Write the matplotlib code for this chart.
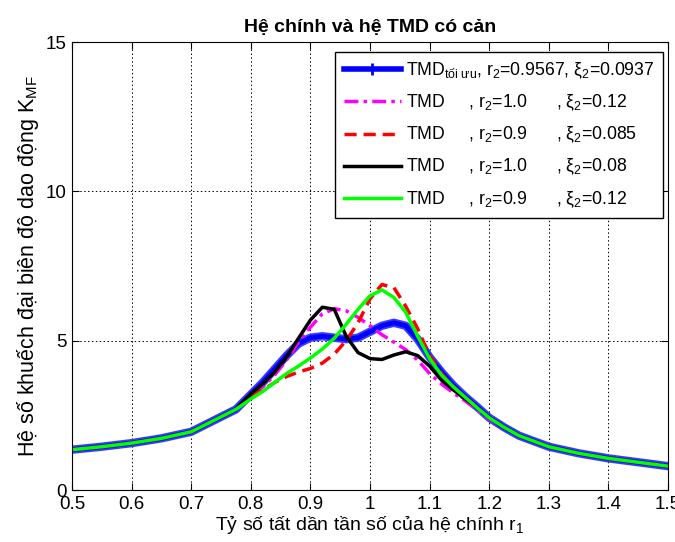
import matplotlib
matplotlib.use('Agg')
import matplotlib.pyplot as plt
import matplotlib.patheffects as pe

plt.rcParams['font.family'] = ['Liberation Sans', 'DejaVu Sans']
plt.rcParams['mathtext.fontset'] = 'custom'
plt.rcParams['mathtext.rm'] = 'Liberation Sans'
plt.rcParams['mathtext.it'] = 'Liberation Sans'
plt.rcParams['mathtext.bf'] = 'Liberation Sans:bold'

# tan so r1
r1 = [0.5, 0.55, 0.6, 0.65, 0.7, 0.75, 0.775,
      0.80, 0.82, 0.84, 0.86, 0.88, 0.90, 0.92, 0.94, 0.96, 0.98, 1.00,
      1.02, 1.04, 1.06, 1.08, 1.10, 1.12, 1.14, 1.16, 1.18, 1.20,
      1.225, 1.25, 1.3, 1.35, 1.4, 1.45, 1.5]

left = [1.35, 1.45, 1.57, 1.73, 1.95, 2.45, 2.7]
tail = [2.1, 1.82, 1.45, 1.23, 1.06, 0.93, 0.8]

k_opt = left + [3.2, 3.6, 4.05, 4.5, 4.9, 5.1, 5.15, 5.1, 5.05, 5.1, 5.3,
                5.5, 5.6, 5.5, 5.05, 4.45, 3.95, 3.5, 3.12, 2.78, 2.42] + tail
k_m = left + [3.15, 3.45, 3.85, 4.35, 4.95, 5.45, 5.9, 6.07, 6.0, 5.78, 5.5,
              5.2, 4.95, 4.7, 4.35, 3.9, 3.55, 3.25, 2.98, 2.68, 2.38] + tail
k_r = left + [3.15, 3.35, 3.6, 3.8, 3.95, 4.07, 4.25, 4.55, 5.0, 5.6, 6.4,
              6.88, 6.78, 6.15, 5.4, 4.5, 3.9, 3.45, 3.1, 2.75, 2.42] + tail
k_k = left + [3.22, 3.55, 3.95, 4.45, 5.08, 5.69, 6.12, 6.05, 5.15, 4.6, 4.4,
              4.37, 4.52, 4.63, 4.5, 4.15, 3.68, 3.35, 3.05, 2.75, 2.42] + tail
k_g = left + [3.05, 3.3, 3.6, 3.9, 4.15, 4.42, 4.72, 5.08, 5.55, 6.05, 6.5,
              6.7, 6.45, 5.95, 5.15, 4.4, 3.85, 3.45, 3.1, 2.75, 2.42] + tail

lab_opt = r'TMD$_{\mathregular{tối\ ưu}}$, r$_2$=0.9567, ξ$_2$=0.0937'
lab_m = r'TMD     , r$_2$=1.0      , ξ$_2$=0.12'
lab_r = r'TMD     , r$_2$=0.9      , ξ$_2$=0.085'
lab_k = r'TMD     , r$_2$=1.0      , ξ$_2$=0.08'
lab_g = r'TMD     , r$_2$=0.9      , ξ$_2$=0.12'

fig = plt.figure(figsize=(6.75, 5.42), dpi=100)
ax = fig.add_axes([0.1067, 0.0959, 0.8829, 0.8266])

ax.plot(r1, k_opt, color='#0000ff', lw=3.4, label=lab_opt,
        path_effects=[pe.Stroke(linewidth=6, foreground='#3a3aff'), pe.Normal()])
ax.plot(r1, k_m, color='#ff00ff', lw=2.5, linestyle=(0, (4, 1.5, 1, 1.5)), label=lab_m)
ax.plot(r1, k_r, color='#ff0000', lw=2.5, linestyle=(0, (3.5, 2)), label=lab_r)
ax.plot(r1, k_k, color='black', lw=2.5, label=lab_k)
ax.plot(r1, k_g, color='#00ff00', lw=2.5, label=lab_g)

# legend handle with the + marker of the optimal curve
handles, labels = ax.get_legend_handles_labels()
handles[0] = plt.Line2D([], [], color='#0000ff', lw=4, marker='+', ms=8, mew=2)
leg = ax.legend(handles, labels, loc='upper right', bbox_to_anchor=(0.9916, 0.9777),
                fontsize=12.7, fancybox=False, edgecolor='black', framealpha=1,
                handlelength=3.2, borderaxespad=0, labelspacing=0.66,
                handletextpad=0.3, borderpad=0.5)
leg.get_frame().set_linewidth(1.0)

ax.set_xlim(0.5, 1.5)
ax.set_ylim(0, 15)
ax.set_xticks([0.5, 0.6, 0.7, 0.8, 0.9, 1.0, 1.1, 1.2, 1.3, 1.4, 1.5])
ax.set_xticklabels(['0.5', '0.6', '0.7', '0.8', '0.9', '1', '1.1', '1.2', '1.3', '1.4', '1.5'])
ax.set_yticks([0, 5, 10, 15])
ax.grid(True, color='black', linestyle=(0, (1.5, 2.5)), lw=0.7)
ax.tick_params(direction='in', top=True, right=True, labelsize=13.5, length=5, pad=4)
for s in ax.spines.values():
    s.set_linewidth(0.8)

ax.set_title('Hệ chính và hệ TMD có cản', fontsize=14, fontweight='bold', pad=7)
ax.set_xlabel('Tỷ số tất dần tần số của hệ chính r$_1$', fontsize=14, labelpad=1)
ax.set_ylabel('Hệ số khuếch đại biên độ dao động K$_{MF}$', fontsize=15.5, labelpad=3)

fig.savefig('out.png', dpi=100)
